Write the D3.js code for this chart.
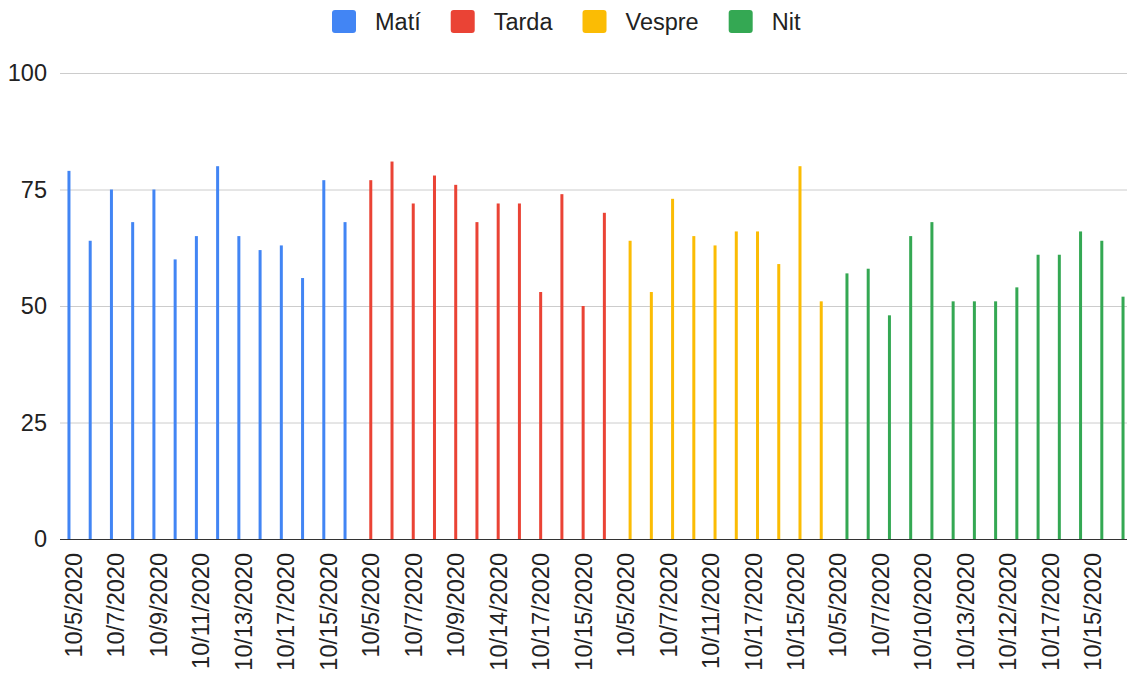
<!DOCTYPE html>
<html>
<head>
<meta charset="utf-8">
<script src="https://cdn.jsdelivr.net/npm/d3@7"></script>
<style>
    body { margin: 0; background: #fff; }
    text { font-family: "Liberation Sans", Arial, sans-serif; fill: #222; }
</style>
</head>
<body>
<div id="chart"></div>
<script>

    const WIDTH = 1127;
    const HEIGHT = 675;
    const MARGIN = {left: 60, right: -5, top: 73, bottom: 136};
    const FONT_SIZE = 23.5;

    // series names and colours
    const seriesNames = ["Matí", "Tarda", "Vespre", "Nit"];
    const seriesColors = ["#4285f4", "#ea4335", "#fbbc04", "#34a853"];

    // category labels (only every other one is shown on the axis)
    const dates = [
        "10/5/2020", "10/6/2020", "10/7/2020", "10/8/2020", "10/9/2020", "10/10/2020", "10/11/2020",
        "10/12/2020", "10/13/2020", "10/14/2020", "10/17/2020", "10/16/2020", "10/15/2020", "10/18/2020",
        "10/5/2020", "10/6/2020", "10/7/2020", "10/8/2020", "10/9/2020", "10/13/2020", "10/14/2020",
        "10/16/2020", "10/17/2020", "10/18/2020", "10/15/2020", "10/19/2020",
        "10/5/2020", "10/6/2020", "10/7/2020", "10/8/2020", "10/11/2020", "10/13/2020", "10/17/2020",
        "10/16/2020", "10/15/2020", "10/19/2020",
        "10/5/2020", "10/6/2020", "10/7/2020", "10/8/2020", "10/10/2020", "10/11/2020", "10/13/2020",
        "10/14/2020", "10/12/2020", "10/16/2020", "10/17/2020", "10/18/2020", "10/15/2020", "10/19/2020"
    ];

    // values, one array per series, in category order
    const matiValues = [79, 64, 75, 68, 75, 60, 65, 80, 65, 62, 63, 56, 77, 68];
    const tardaValues = [77, 81, 72, 78, 76, 68, 72, 72, 53, 74, 50, 70];
    const vespreValues = [64, 53, 73, 65, 63, 66, 66, 59, 80, 51];
    const nitValues = [57, 58, 48, 65, 68, 51, 51, 51, 54, 61, 61, 66, 64, 52];

    const yTicks = [0, 25, 50, 75, 100];

    // flatten into rows: each category holds one value of one series
    var rows = [];
    [matiValues, tardaValues, vespreValues, nitValues].forEach(function(values, s) {
        values.forEach(function(v) {
            rows.push({index: rows.length, series: seriesNames[s], value: v});
        });
    });

    var svg = d3.select("#chart").append("svg")
        .attr("width", WIDTH)
        .attr("height", HEIGHT);

    var plotBottom = HEIGHT - MARGIN.bottom;

    var x0 = d3.scaleBand()
        .domain(d3.range(dates.length))
        .range([MARGIN.left, WIDTH - MARGIN.right])
        .paddingInner(0)
        .paddingOuter(0.24);

    var x1 = d3.scaleBand()
        .domain(seriesNames)
        .range([-9, 9]);

    var color = d3.scaleOrdinal()
        .domain(seriesNames)
        .range(seriesColors);

    var y = d3.scaleLinear()
        .domain([0, 100])
        .range([plotBottom, MARGIN.top]);

    const BAR_W = 3;

    // gridlines + y labels
    var yAxis = svg.append("g")
        .attr("transform", "translate(" + MARGIN.left + ",0)")
        .call(d3.axisLeft(y).tickValues(yTicks).tickSize(-(WIDTH - MARGIN.left)).tickPadding(13));
    yAxis.select(".domain").remove();
    yAxis.selectAll(".tick line").attr("stroke", "#cccccc");
    yAxis.selectAll(".tick text")
        .style("font-size", FONT_SIZE + "px")
        .attr("fill", "#222");

    // bars
    svg.append("g").selectAll("rect")
        .data(rows)
        .enter().append("rect")
        .attr("x", function(d) {
            return x0(d.index) + x0.bandwidth() / 2 + x1(d.series) + (x1.bandwidth() - BAR_W) / 2;
        })
        .attr("y", function(d) { return y(d.value); })
        .attr("width", BAR_W)
        .attr("height", function(d) { return y(0) - y(d.value); })
        .attr("fill", function(d) { return color(d.series); });

    // x axis
    var xAxis = svg.append("g")
        .attr("transform", "translate(0," + plotBottom + ")")
        .call(d3.axisBottom(x0)
            .tickValues(d3.range(0, dates.length, 2))
            .tickFormat(function(i) { return dates[i]; })
            .tickSize(0));
    xAxis.select(".domain").remove();
    xAxis.selectAll(".tick text")
        .style("font-size", FONT_SIZE + "px")
        .attr("fill", "#222")
        .attr("text-anchor", "end")
        .attr("transform", "rotate(-90)")
        .attr("x", -14)
        .attr("y", -2)
        .attr("dy", "0.35em");

    svg.append("line")
        .attr("x1", MARGIN.left)
        .attr("x2", WIDTH)
        .attr("y1", y(0) + 0.5)
        .attr("y2", y(0) + 0.5)
        .attr("stroke", "#333")
        .attr("stroke-width", 1);

    // legend
    var legend = svg.append("g");
    var lx = 0;
    seriesNames.forEach(function(name) {
        var item = legend.append("g").attr("transform", "translate(" + lx + ",0)");
        item.append("rect")
            .attr("x", 0)
            .attr("y", 10)
            .attr("width", 24)
            .attr("height", 23)
            .attr("rx", 3)
            .attr("fill", color(name));
        var t = item.append("text")
            .attr("x", 43)
            .attr("y", 30)
            .style("font-size", FONT_SIZE + "px")
            .text(name);
        lx += 43 + t.node().getComputedTextLength() + 30;
    });
    var legendW = lx - 30;
    legend.attr("transform", "translate(" + (332) + ",0)");

</script>
</body>
</html>
